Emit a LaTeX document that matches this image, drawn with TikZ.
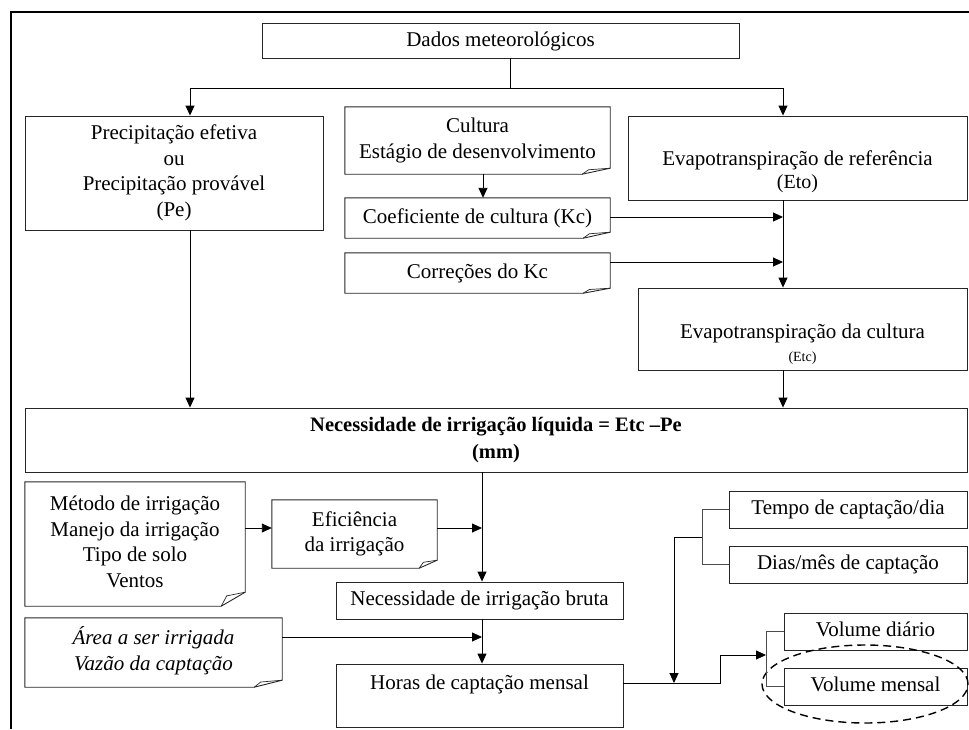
\documentclass[tikz,border=0pt]{standalone}
\usepackage{fontspec}
\setmainfont{Liberation Serif}
\usetikzlibrary{arrows.meta,shapes.geometric}
\newcommand\fs{\fontsize{21}{25.5}\selectfont}
\newcommand\fsb{\fontsize{20.5}{27}\selectfont\bfseries}
\newcommand\fsE{\fontsize{20}{24}\selectfont}
\newcommand\fsS{\fontsize{14}{17}\selectfont}
% plain box: [opts]{name}{xl}{yt}{xr}{yb}{text}
\newcommand\BX[7][]{\node[box,#1,minimum width={(#5-#3)*1pt},minimum height={(#6-#4)*1pt}] (#2) at ({(#3+#5)/2},{(#4+#6)/2}) {#7};}
% folded-corner note: [opts]{name}{xl}{yt}{xr}{yb}{dx}{dy}{text}
\newcommand\NT[9][]{%
  \node[note,#1,minimum width={(#5-#3)*1pt},minimum height={(#6-#4)*1pt}] (#2) at ({(#3+#5)/2},{(#4+#6)/2}) {#9};
  \draw[outl] (#2.north west) -- (#2.north east) -- ([yshift=#8pt]#2.south east) -- ([xshift=-#7pt]#2.south east) -- (#2.south west) -- cycle;
  \draw[outl,line width=0.7pt] ([xshift=-#7pt]#2.south east) -- ([xshift={-0.77*#7pt},yshift={0.74*#8pt}]#2.south east) -- ([yshift=#8pt]#2.south east);}
\begin{document}
\begin{tikzpicture}[x=1pt,y=-1pt,
  outl/.style={draw=black!85,line width=0.9pt,line join=miter},
  box/.style={draw=black!85,line width=0.9pt,inner sep=0pt,align=center,font=\fs},
  note/.style={inner sep=0pt,align=center,font=\fs},
  txt/.style={inner sep=0pt,align=center,font=\fs},
  conn/.style={line width=0.9pt,draw=black},
  arr/.style={conn,-{Triangle[length=10pt,width=9pt]}},
  brk/.style={line width=0.9pt,draw=black!70}]
\useasboundingbox (0,0) rectangle (969,729);
% frame
\draw[line width=2.6pt,line join=miter] (11,729) -- (11,12) -- (969,12);
% boxes
\BX{dados}{262}{23}{739}{58}{}
\node[txt] (dadost) at (500.5,41) {\strut Dados meteorológicos};
\BX{prec}{25}{116}{323}{230}{\strut Precipitação efetiva\\\strut ou\\\strut Precipitação provável\\\strut (Pe)}
\NT{cult}{345}{107}{610}{174}{28}{6}{\strut Cultura\\\strut Estágio de desenvolvimento}
\NT{kc}{345}{198}{610}{238}{27}{6}{\strut Coeficiente de cultura (Kc)}
\NT{corr}{345}{253}{610}{293}{27}{5}{\strut Correções do Kc}
\BX{evr}{628}{116}{967}{200}{}
\node[txt] (evrt1) at (797.5,160) {\strut Evapotranspiração de referência};
\node[txt,font=\fsE] (evrt2) at (797.5,184) {\strut (Eto)};
\BX{evc}{638}{288}{967}{370}{}
\node[txt] (evct1) at (802.5,333) {\strut Evapotranspiração da cultura};
\node[txt,font=\fsS] (evct2) at (802.5,358) {\strut (Etc)};
\BX[font=\fsb]{nec}{25}{408}{967}{472}{\strut Necessidade de irrigação líquida = Etc –Pe\\\strut (mm)}
\NT{met}{25}{482}{245}{606}{24}{14}{\strut Método de irrigação\\\strut Manejo da irrigação\\\strut Tipo de solo\\\strut Ventos}
\NT{efi}{272}{500}{437}{568}{18}{8}{\strut Eficiência\\\strut da irrigação}
\BX{nib}{336}{582}{623}{619}{\strut Necessidade de irrigação bruta}
\NT[font=\fs\itshape]{area}{25}{618}{282}{687}{28}{7}{\strut Área a ser irrigada\\\strut Vazão da captação}
\BX{hor}{336}{664}{623}{727}{}
\node[txt] (hort) at (479.5,684) {\strut Horas de captação mensal};
\BX{tem}{729}{491}{967}{528}{\strut Tempo de captação/dia}
\BX{dia}{729}{546}{967}{583}{\strut Dias/mês de captação}
\BX{vold}{784}{613}{967}{650}{\strut Volume diário}
\BX{volm}{784}{668}{967}{705}{\strut Volume mensal}
\node[draw=black,ellipse,dashed,dash pattern=on 8pt off 5pt,line width=1.4pt,minimum width=206pt,minimum height=78pt,inner sep=0pt] (ell) at (865,684) {};
% connector coordinates
\coordinate (j1) at (510,88);
\coordinate (a1) at (190,88);
\coordinate (a2) at (783,88);
\coordinate (cx) at (483,0);
\coordinate (b) at (482,0);
\coordinate (r1) at (0,528);
\coordinate (r2) at (0,637);
\coordinate (r3) at (0,683);
\coordinate (k1) at (720,655);
\coordinate (vb) at (766,655);
\coordinate (t1) at (702,0);
\coordinate (t2) at (702,537);
\coordinate (t3) at (674,683);
% connectors
\draw[conn] (dados.south -| j1) -- (j1);
\draw[conn] (a1) -- (a2);
\draw[arr] (a1) -- (a1 |- prec.north);
\draw[arr] (a2) -- (a2 |- evr.north);
\draw[arr] (cult.south -| cx) -- (kc.north -| cx);
\draw[arr] ([yshift=1pt]kc.east) -- ([yshift=1pt]kc.east -| a2);
\draw[arr] ([yshift=11pt]corr.east) -- ([yshift=11pt]corr.east -| a2);
\draw[arr] (evr.south -| a2) -- (evc.north -| a2);
\draw[arr] (evc.south -| a2) -- (nec.north -| a2);
\draw[arr] (prec.south -| a1) -- (nec.north -| a1);
\draw[arr] (nec.south -| b) -- (nib.north -| b);
\draw[arr] (met.east |- r1) -- (efi.west |- r1);
\draw[arr] (efi.east |- r1) -- (b |- r1);
\draw[arr] (nib.south -| b) -- (hor.north -| b);
\draw[arr] (area.east |- r2) -- (b |- r2);
\draw[arr] (hor.east |- r3) -- (r3 -| k1) -- (k1) -- (vb);
\draw[brk] (vold.west) -- (vold.west -| vb) -- (volm.west -| vb) -- (volm.west);
\draw[brk] (tem.west) -- (tem.west -| t1) -- (dia.west -| t1) -- (dia.west);
\draw[arr] (t2) -| (t3);
\end{tikzpicture}
\end{document}
